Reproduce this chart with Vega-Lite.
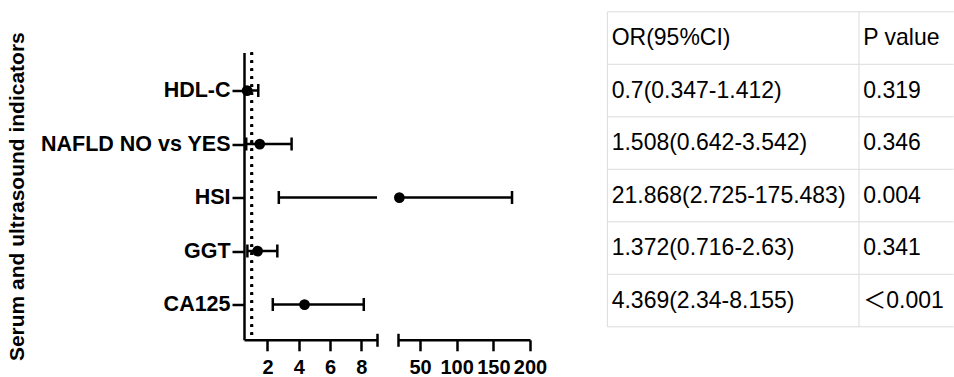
{
  "$schema": "https://vega.github.io/schema/vega-lite/v6.json",
  "padding": {"left": 6, "top": 10.5, "right": 0, "bottom": 0},
  "bounds": "flush",
  "spacing": 21,
  "background": "white",
  "config": {
    "view": {"stroke": null},
    "font": "Liberation Sans",
    "axis": {"labelFont": "Liberation Sans", "titleFont": "Liberation Sans"},
    "axisY": {"labelLimit": 300}
  },
  "datasets": {
    "or": [
      {"name": "HDL-C", "or": 0.7, "lo": 0.347, "hi": 1.412},
      {"name": "NAFLD NO vs YES", "or": 1.508, "lo": 0.642, "hi": 3.542},
      {"name": "HSI", "or": 21.868, "lo": 2.725, "hi": 175.483},
      {"name": "GGT", "or": 1.372, "lo": 0.716, "hi": 2.63},
      {"name": "CA125", "or": 4.369, "lo": 2.34, "hi": 8.155}
    ],
    "cells": [
      {"row": 0, "col": 0, "text": "OR(95%CI)"},
      {"row": 0, "col": 1, "text": "P value"},
      {"row": 1, "col": 0, "text": "0.7(0.347-1.412)"},
      {"row": 1, "col": 1, "text": "0.319"},
      {"row": 2, "col": 0, "text": "1.508(0.642-3.542)"},
      {"row": 2, "col": 1, "text": "0.346"},
      {"row": 3, "col": 0, "text": "21.868(2.725-175.483)"},
      {"row": 3, "col": 1, "text": "0.004"},
      {"row": 4, "col": 0, "text": "1.372(0.716-2.63)"},
      {"row": 4, "col": 1, "text": "0.341"},
      {"row": 5, "col": 0, "text": "4.369(2.34-8.155)"},
      {"row": 5, "col": 1, "text": "＜0.001"}
    ]
  },
  "resolve": {"scale": {"x": "independent", "y": "independent"}},
  "hconcat": [
    {
      "width": 133,
      "height": 287.3,
      "data": {"name": "or"},
      "resolve": {"axis": {"x": "independent"}},
      "layer": [
        {
          "mark": {"type": "rule", "color": "black", "strokeWidth": 2.5, "strokeDash": [2.5, 5.5]},
          "encoding": {
            "x": {"datum": 1, "type": "quantitative", "scale": {"domain": [0.5, 9], "zero": false, "nice": false}, "axis": null}
          }
        },
        {
          "mark": {"type": "rule", "color": "black", "strokeWidth": 2.5, "clip": true},
          "encoding": {
            "x": {"field": "lo", "type": "quantitative", "scale": {"domain": [0.5, 9], "zero": false, "nice": false},
              "axis": {"orient": "bottom", "values": [2, 4, 6, 8], "title": null, "grid": false, "domainColor": "black", "domainWidth": 2.5, "tickColor": "black", "tickWidth": 2.5, "tickSize": 11, "labelFontSize": 20, "labelFontWeight": "bold", "labelColor": "black", "labelPadding": 7, "labelOverlap": false, "labelFlush": false}},
            "x2": {"field": "hi"},
            "y": {"field": "name", "type": "nominal",
              "scale": {"type": "point", "domain": ["HDL-C", "NAFLD NO vs YES", "HSI", "GGT", "CA125"], "padding": 0.685, "align": 0.52},
              "axis": {"title": "Serum and ultrasound indicators", "titleFontSize": 21, "titleFontWeight": "bold", "titleColor": "black", "titlePadding": 17, "domainColor": "black", "domainWidth": 2.5, "tickColor": "black", "tickWidth": 2.5, "tickSize": 12, "labelFontSize": 21.5, "labelFontWeight": "bold", "labelColor": "black", "labelPadding": 2, "labelLimit": 300, "grid": false}}
          }
        },
        {
          "mark": {"type": "tick", "color": "black", "orient": "vertical", "size": 13, "thickness": 2.5, "clip": true, "opacity": 1},
          "encoding": {
            "x": {"field": "lo", "type": "quantitative", "scale": {"domain": [0.5, 9], "zero": false, "nice": false}, "axis": null},
            "y": {"field": "name", "type": "nominal", "scale": {"type": "point", "domain": ["HDL-C", "NAFLD NO vs YES", "HSI", "GGT", "CA125"], "padding": 0.685, "align": 0.52},
              "axis": {"title": "Serum and ultrasound indicators", "titleFontSize": 21, "titleFontWeight": "bold", "titleColor": "black", "titlePadding": 17, "domainColor": "black", "domainWidth": 2.5, "tickColor": "black", "tickWidth": 2.5, "tickSize": 12, "labelFontSize": 21.5, "labelFontWeight": "bold", "labelColor": "black", "labelPadding": 2, "labelLimit": 300, "grid": false}}
          }
        },
        {
          "mark": {"type": "tick", "color": "black", "orient": "vertical", "size": 13, "thickness": 2.5, "clip": true, "opacity": 1},
          "encoding": {
            "x": {"field": "hi", "type": "quantitative", "scale": {"domain": [0.5, 9], "zero": false, "nice": false}, "axis": null},
            "y": {"field": "name", "type": "nominal", "scale": {"type": "point", "domain": ["HDL-C", "NAFLD NO vs YES", "HSI", "GGT", "CA125"], "padding": 0.685, "align": 0.52},
              "axis": {"title": "Serum and ultrasound indicators", "titleFontSize": 21, "titleFontWeight": "bold", "titleColor": "black", "titlePadding": 17, "domainColor": "black", "domainWidth": 2.5, "tickColor": "black", "tickWidth": 2.5, "tickSize": 12, "labelFontSize": 21.5, "labelFontWeight": "bold", "labelColor": "black", "labelPadding": 2, "labelLimit": 300, "grid": false}}
          }
        },
        {
          "transform": [{"filter": "datum.or <= 9"}],
          "mark": {"type": "circle", "color": "black", "size": 115, "opacity": 1},
          "encoding": {
            "x": {"field": "or", "type": "quantitative", "scale": {"domain": [0.5, 9], "zero": false, "nice": false},
              "axis": {"orient": "bottom", "values": [9], "title": null, "grid": false, "domain": false, "labels": false, "offset": -6.5, "tickSize": 13, "tickWidth": 2.5, "tickColor": "black"}},
            "y": {"field": "name", "type": "nominal", "scale": {"type": "point", "domain": ["HDL-C", "NAFLD NO vs YES", "HSI", "GGT", "CA125"], "padding": 0.685, "align": 0.52},
              "axis": {"title": "Serum and ultrasound indicators", "titleFontSize": 21, "titleFontWeight": "bold", "titleColor": "black", "titlePadding": 17, "domainColor": "black", "domainWidth": 2.5, "tickColor": "black", "tickWidth": 2.5, "tickSize": 12, "labelFontSize": 21.5, "labelFontWeight": "bold", "labelColor": "black", "labelPadding": 2, "labelLimit": 300, "grid": false}}
          }
        }
      ]
    },
    {
      "width": 132,
      "height": 287.3,
      "data": {"name": "or"},
      "transform": [{"filter": "datum.hi >= 20"}],
      "resolve": {"axis": {"x": "independent"}},
      "layer": [
        {
          "mark": {"type": "rule", "color": "black", "strokeWidth": 2.5, "clip": true},
          "encoding": {
            "x": {"field": "lo", "type": "quantitative", "scale": {"domain": [20, 200], "zero": false, "nice": false},
              "axis": {"orient": "bottom", "values": [50, 100, 150, 200], "title": null, "grid": false, "domainColor": "black", "domainWidth": 2.5, "tickColor": "black", "tickWidth": 2.5, "tickSize": 11, "labelFontSize": 20, "labelFontWeight": "bold", "labelColor": "black", "labelPadding": 7, "labelOverlap": false, "labelFlush": false}},
            "x2": {"field": "hi"},
            "y": {"field": "name", "type": "nominal", "scale": {"type": "point", "domain": ["HDL-C", "NAFLD NO vs YES", "HSI", "GGT", "CA125"], "padding": 0.685, "align": 0.52}, "axis": null}
          }
        },
        {
          "mark": {"type": "tick", "color": "black", "orient": "vertical", "size": 13, "thickness": 2.5, "clip": true, "opacity": 1},
          "encoding": {
            "x": {"field": "hi", "type": "quantitative", "scale": {"domain": [20, 200], "zero": false, "nice": false}, "axis": null},
            "y": {"field": "name", "type": "nominal", "scale": {"type": "point", "domain": ["HDL-C", "NAFLD NO vs YES", "HSI", "GGT", "CA125"], "padding": 0.685, "align": 0.52}, "axis": null}
          }
        },
        {
          "transform": [{"filter": "datum.or >= 20"}],
          "mark": {"type": "circle", "color": "black", "size": 115, "opacity": 1},
          "encoding": {
            "x": {"field": "or", "type": "quantitative", "scale": {"domain": [20, 200], "zero": false, "nice": false},
              "axis": {"orient": "bottom", "values": [20], "title": null, "grid": false, "domain": false, "labels": false, "offset": -6.5, "tickSize": 13, "tickWidth": 2.5, "tickColor": "black"}},
            "y": {"field": "name", "type": "nominal", "scale": {"type": "point", "domain": ["HDL-C", "NAFLD NO vs YES", "HSI", "GGT", "CA125"], "padding": 0.685, "align": 0.52}, "axis": null}
          }
        }
      ]
    },
    {
      "width": 403,
      "height": 287.3,
      "data": {"name": "cells"},
      "resolve": {"scale": {"y": "independent"}},
      "layer": [
        {
          "transform": [{"filter": "datum.col == 0"}],
          "mark": {"type": "rule", "color": "#dcdcdc", "strokeWidth": 1},
          "encoding": {
            "x": {"datum": 0, "type": "quantitative", "scale": {"domain": [0, 1, 2], "range": [56.4, 308, 402.7], "zero": false, "nice": false}, "axis": null},
            "x2": {"datum": 2},
            "y": {"field": "row", "type": "quantitative", "scale": {"domain": [0, 6], "range": [-40.7, 274.3], "zero": false, "nice": false}, "axis": null}
          }
        },
        {
          "transform": [{"filter": "datum.col == 0 && datum.row == 5"}],
          "mark": {"type": "rule", "color": "#dcdcdc", "strokeWidth": 1},
          "encoding": {
            "x": {"datum": 0, "type": "quantitative", "scale": {"domain": [0, 1, 2], "range": [56.4, 308, 402.7], "zero": false, "nice": false}, "axis": null},
            "x2": {"datum": 2},
            "y": {"datum": 6, "type": "quantitative", "scale": {"domain": [0, 6], "range": [-40.7, 274.3], "zero": false, "nice": false}, "axis": null}
          }
        },
        {
          "transform": [{"filter": "datum.row == 0"}],
          "mark": {"type": "rule", "color": "#dcdcdc", "strokeWidth": 1},
          "encoding": {
            "x": {"field": "col", "type": "quantitative", "scale": {"domain": [0, 1, 2], "range": [56.4, 308, 402.7], "zero": false, "nice": false}, "axis": null},
            "y": {"datum": 0, "type": "quantitative", "scale": {"domain": [0, 6], "range": [-40.7, 274.3], "zero": false, "nice": false}, "axis": null},
            "y2": {"datum": 6}
          }
        },
        {
          "mark": {"type": "text", "align": "left", "baseline": "middle", "dx": 4.3, "fontSize": 23, "color": "black", "font": "Liberation Sans, Noto Sans CJK SC"},
          "encoding": {
            "x": {"field": "col", "type": "quantitative", "scale": {"domain": [0, 1, 2], "range": [56.4, 308, 402.7], "zero": false, "nice": false}, "axis": null},
            "y": {"field": "row", "type": "ordinal", "scale": {"type": "band", "range": [-40.7, 274.3], "paddingInner": 0, "paddingOuter": 0}, "axis": null},
            "text": {"field": "text"}
          }
        }
      ]
    }
  ]
}
